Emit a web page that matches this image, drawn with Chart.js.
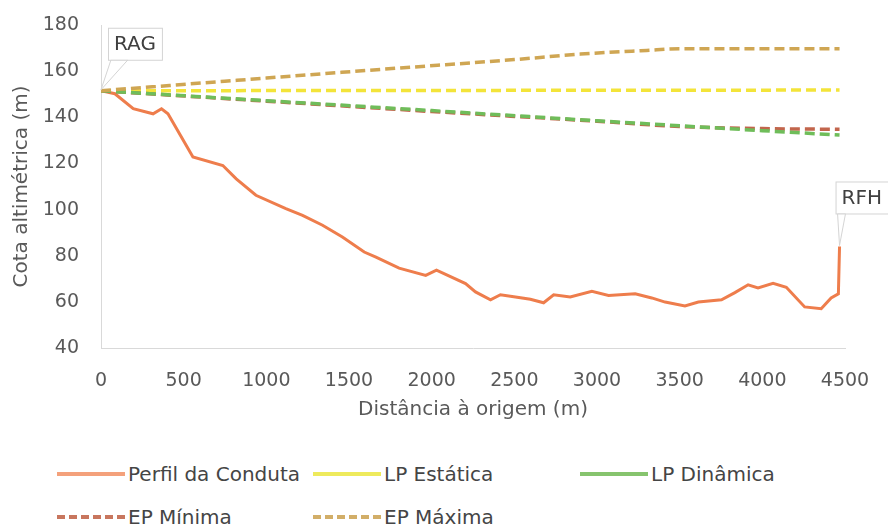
<!DOCTYPE html>
<html lang="pt">
<head>
<meta charset="utf-8">
<title>Perfil longitudinal da conduta</title>
<script src="https://cdn.jsdelivr.net/npm/chart.js@4.4.1/dist/chart.umd.min.js"></script>
<style>
  html, body { margin: 0; padding: 0; background: #ffffff; }
  #wrap { position: relative; width: 888px; height: 528px; overflow: hidden; }
  #chart { position: absolute; left: 0; top: 0; }
  #legend {
    position: absolute; left: 57px; top: 452px;
    display: grid; grid-template-columns: 256px 267px auto; grid-auto-rows: 43px;
    font-family: "DejaVu Sans", sans-serif; font-size: 20px; color: #454545;
  }
  #legend .item { display: flex; align-items: center; white-space: nowrap; }
  #legend svg { flex: none; margin-right: 3px; }
</style>
</head>
<body>
<div id="wrap">
  <canvas id="chart" width="888" height="440"></canvas>
  <div id="legend"></div>
</div>
<script>
// Perfil da conduta: distância à origem (m) e cota do terreno/conduta (m)
const distancia = [0, 84, 195, 315, 366, 405, 556, 737, 818, 937, 1118, 1219, 1340, 1460, 1592, 1663,
  1803, 1964, 2029, 2205, 2265, 2356, 2416, 2507, 2597, 2677, 2738, 2838, 2969, 3070, 3231, 3331,
  3412, 3532, 3613, 3753, 3834, 3914, 3974, 4065, 4145, 4256, 4356, 4416, 4460, 4467];
const cotaConduta = [151.5, 150.2, 143.7, 141.5, 143.7, 141.5, 122.8, 119.1, 113.3, 106.2, 100.4, 97.5, 93.2, 88.1, 81.6, 79.4,
  74.6, 71.5, 73.7, 67.9, 64.3, 60.9, 63.1, 62.1, 61.1, 59.6, 63.1, 62.1, 64.6, 62.8, 63.5, 61.7,
  59.9, 58.2, 59.9, 60.9, 64.0, 67.4, 66.0, 68.0, 66.3, 57.8, 57.0, 61.7, 63.5, 84.0];

// Linha piezométrica estática
const lpEstaticaX = [0, 4467];
const lpEstatica = [151.5, 151.8];

// Linha piezométrica dinâmica
const lpDinamicaX = [0, 1000, 2000, 3000, 4000, 4467];
const lpDinamica = [151.5, 147.2, 142.9, 138.5, 134.2, 132.3];

// Envolvente de pressões mínimas
const epMinimaX = [0, 1000, 2000, 3000, 3500, 4000, 4467];
const epMinima = [151.5, 147.0, 142.5, 138.3, 136.0, 135.1, 134.8];

// Envolvente de pressões máximas
const epMaximaX = [0, 1000, 1700, 2500, 2900, 3300, 3500, 4467];
const epMaxima = [151.5, 157.0, 160.8, 165.0, 167.4, 169.0, 169.7, 169.7];

// Marcas dos eixos
const xTicks = [0, 500, 1000, 1500, 2000, 2500, 3000, 3500, 4000, 4500];
const yTicks = [40, 60, 80, 100, 120, 140, 160, 180];

// Etiquetas dos extremos da conduta (reservatórios)
const etiquetas = ['RAG', 'RFH'];

const pts = (xs, ys) => xs.map((x, i) => ({ x, y: ys[i] }));

const FONT = '"DejaVu Sans", sans-serif';
const TXT = '#595959';

const series = [
  { label: 'Perfil da Conduta', data: pts(distancia, cotaConduta), color: '#ee7d4c', width: 3, dash: [], legendColor: '#f4a17b', legendDash: null },
  { label: 'LP Estática', data: pts(lpEstaticaX, lpEstatica), color: '#f3e43a', width: 3.5, dash: [10, 5], legendColor: '#eeea5c', legendDash: null },
  { label: 'LP Dinâmica', data: pts(lpDinamicaX, lpDinamica), color: '#6fbd5a', width: 3.5, dash: [10, 5], legendColor: '#86c46e', legendDash: null },
  { label: 'EP Mínima', data: pts(epMinimaX, epMinima), color: '#c2654c', width: 3.5, dash: [10, 5], legendColor: '#c8765e', legendDash: '8 4' },
  { label: 'EP Máxima', data: pts(epMaximaX, epMaxima), color: '#cfa653', width: 3.5, dash: [10, 5], legendColor: '#d2ae68', legendDash: '8 4' }
];

// Caixas de texto com ponteiro para o primeiro e último ponto do perfil
const calloutPlugin = {
  id: 'callouts',
  afterDatasetsDraw(chart) {
    const meta = chart.getDatasetMeta(0);
    const first = meta.data[0];
    const last = meta.data[meta.data.length - 1];
    const ctx = chart.ctx;
    const specs = [
      { p: first, text: etiquetas[0], dx: 7, dy: -31, w0: 3, w1: 20 },
      { p: last, text: etiquetas[1], dx: -4, dy: -33, w0: 2, w1: 10 }
    ];
    ctx.save();
    ctx.font = '20px ' + FONT;
    specs.forEach(s => {
      const tw = ctx.measureText(s.text).width;
      const bw = tw + 12, bh = 32;
      const bx = s.p.x + s.dx, by = s.p.y + s.dy - bh;
      // ponteiro
      ctx.beginPath();
      ctx.moveTo(s.p.x, s.p.y - 1);
      ctx.lineTo(bx + s.w0, by + bh);
      ctx.lineTo(bx + s.w1, by + bh);
      ctx.closePath();
      ctx.fillStyle = '#ffffff';
      ctx.fill();
      ctx.strokeStyle = '#d4d4d4';
      ctx.lineWidth = 1;
      ctx.stroke();
      // caixa
      ctx.fillStyle = '#ffffff';
      ctx.fillRect(bx, by, bw, bh);
      ctx.strokeRect(bx + 0.5, by + 0.5, bw, bh);
      ctx.fillStyle = '#404040';
      ctx.textAlign = 'left';
      ctx.textBaseline = 'middle';
      ctx.fillText(s.text, bx + 6, by + bh / 2 + 1);
    });
    ctx.restore();
  }
};

const plain = v => String(v);

new Chart(document.getElementById('chart'), {
  type: 'line',
  data: {
    datasets: series.map((s, i) => ({
      label: s.label,
      data: s.data,
      borderColor: s.color,
      backgroundColor: s.color,
      borderWidth: s.width,
      borderDash: s.dash,
      borderCapStyle: 'butt',
      pointRadius: 0,
      fill: false,
      tension: i === 0 ? 0 : 0.3,
      cubicInterpolationMode: i === 0 ? 'default' : 'monotone',
      order: [5, 4, 2, 3, 1][i]
    }))
  },
  options: {
    responsive: false,
    animation: false,
    events: [],
    layout: { padding: { top: 25, right: 43, left: 0, bottom: 0 } },
    plugins: { legend: { display: false }, tooltip: { enabled: false } },
    scales: {
      x: {
        type: 'linear', min: 0, max: 4500,
        afterBuildTicks: s => { s.ticks = xTicks.map(v => ({ value: v })); },
        afterFit: s => { s.height = 92; s.paddingLeft = 0; s.paddingRight = 0; },
        grid: { display: false, drawTicks: false },
        border: { display: true, color: '#d9d9d9', width: 1 },
        ticks: { font: { family: FONT, size: 19 }, color: TXT, padding: 22, maxRotation: 0, callback: plain },
        title: { display: true, text: 'Distância à origem (m)', font: { family: FONT, size: 20 }, color: TXT, padding: { top: 0, bottom: 18 } }
      },
      y: {
        type: 'linear', min: 40, max: 180,
        afterBuildTicks: s => { s.ticks = yTicks.map(v => ({ value: v })); },
        afterFit: s => { s.width = 101; s.paddingTop = 0; s.paddingBottom = 0; },
        grid: { display: false, drawTicks: false },
        border: { display: true, color: '#d9d9d9', width: 1 },
        ticks: { font: { family: FONT, size: 19 }, color: TXT, padding: 22, callback: plain },
        title: { display: true, text: 'Cota altimétrica (m)', font: { family: FONT, size: 20 }, color: TXT, padding: { top: 10, bottom: 0 } }
      }
    }
  },
  plugins: [calloutPlugin]
});

// Legenda em grelha de três colunas
const legend = document.getElementById('legend');
series.forEach(s => {
  const item = document.createElement('div');
  item.className = 'item';
  const dash = s.legendDash ? ` stroke-dasharray="${s.legendDash}"` : '';
  item.innerHTML = `<svg width="68" height="8"><line x1="0" y1="4" x2="68" y2="4" stroke="${s.legendColor}" stroke-width="4"${dash}/></svg><span>${s.label}</span>`;
  legend.appendChild(item);
});
</script>
</body>
</html>
